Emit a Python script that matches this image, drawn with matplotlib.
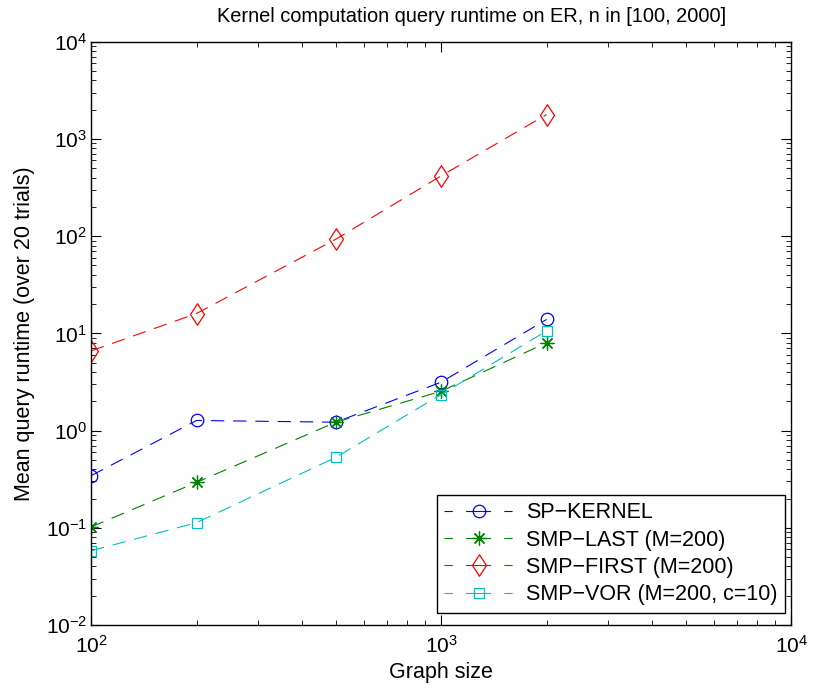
import numpy as np
import matplotlib
matplotlib.use("Agg")
import matplotlib.pyplot as plt
from matplotlib.path import Path

plt.rcParams['font.family'] = ['Liberation Sans', 'DejaVu Sans']
plt.rcParams['mathtext.fontset'] = 'custom'
plt.rcParams['mathtext.rm'] = 'Liberation Sans'
plt.rcParams['mathtext.it'] = 'Liberation Sans'

n = [100, 200, 500, 1000, 2000]
sp_kernel = [0.344, 1.27, 1.22, 3.15, 13.9]
smp_last = [0.102, 0.293, 1.22, 2.54, 8.0]
smp_first = [6.6, 16.0, 93.0, 417.0, 1780.0]
smp_vor = [0.058, 0.113, 0.53, 2.35, 10.6]

labels = ['SP\u2212KERNEL', 'SMP\u2212LAST (M=200)', 'SMP\u2212FIRST (M=200)',
          'SMP\u2212VOR (M=200, c=10)']

# slightly tall diamond like the matlab one
diamond = Path([(0, 1), (0.65, 0), (0, -1), (-0.65, 0), (0, 1)],
               [Path.MOVETO, Path.LINETO, Path.LINETO, Path.LINETO,
                Path.CLOSEPOLY])

fig = plt.figure(figsize=(8.14, 6.95), dpi=100)
ax = fig.add_axes([0.112, 0.1007, 0.86, 0.8393])

lw = 0.8
style = dict(linestyle='--', dashes=(12, 8), linewidth=lw,
             markerfacecolor='none', markeredgewidth=0.9)
ax.plot(n, sp_kernel, color='#0000ff', marker='o', markersize=9,
        label=labels[0], **style)
ax.plot(n, smp_last, color='#008000', marker=(8, 2, 0), markersize=10,
        label=labels[1], **style)
ax.plot(n, smp_first, color='#ff0000', marker=diamond, markersize=15.5,
        label=labels[2], **style)
ax.plot(n, smp_vor, color='#00bfbf', marker='s', markersize=7.5,
        label=labels[3], **style)

ax.set_xscale('log')
ax.set_yscale('log')
ax.set_xlim(100, 10000)
ax.set_ylim(1e-2, 1e4)
ax.tick_params(which='both', direction='in', top=True, right=True,
               labelsize=15)
ax.tick_params(axis='x', which='major', pad=7)
ax.tick_params(axis='y', which='major', pad=3)
ax.tick_params(which='major', length=7)
ax.tick_params(which='minor', length=3.5)
for s in ax.spines.values():
    s.set_linewidth(1.0)

ax.set_xlabel('Graph size', fontsize=15.5, labelpad=4)
ax.set_ylabel('Mean query runtime (over 20 trials)', fontsize=15.5,
              labelpad=8)
ax.set_title('Kernel computation query runtime on ER, n in [100, 2000]',
             fontsize=14.4, pad=14, x=0.543)

leg = ax.legend(loc='lower right', bbox_to_anchor=(0.991, 0.0206),
                fontsize=15.5, frameon=True, fancybox=False,
                edgecolor='black', framealpha=1, borderaxespad=0,
                handlelength=3.2, handletextpad=0.6, labelspacing=0.3,
                borderpad=0.35)
leg.get_frame().set_linewidth(1.0)
for line in leg.get_lines():
    line.set_dashes((7.5, 11.9, 22.5, 11.9))

fig.savefig('out.png', dpi=100)
